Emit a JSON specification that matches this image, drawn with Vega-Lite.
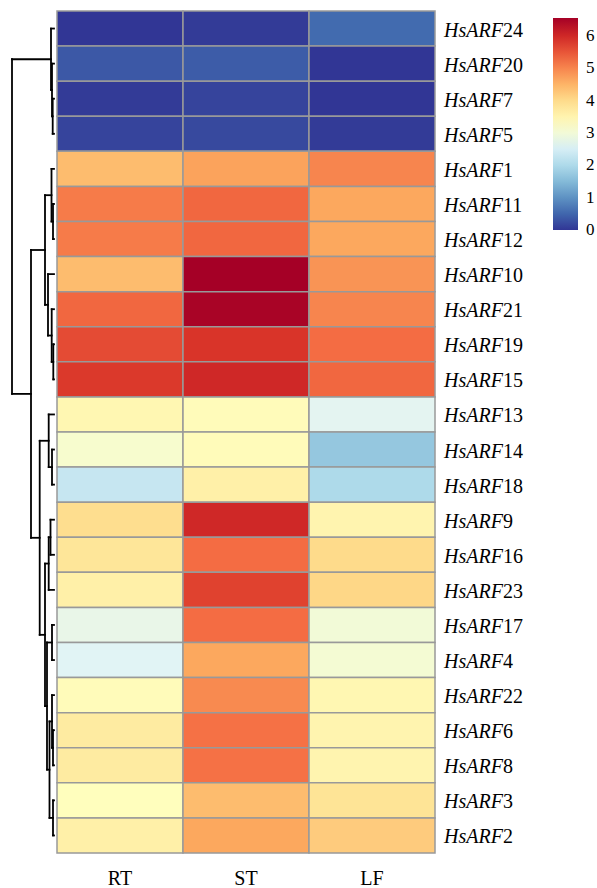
{
  "$schema": "https://vega.github.io/schema/vega-lite/v6.json",
  "padding": {"left": 10, "top": 10, "right": 0, "bottom": 0},
  "spacing": 0,
  "config": {"view": {"stroke": null}, "concat": {"spacing": 0}, "font": "Liberation Serif"},
  "datasets": {
    "heat": [
      {"gene": "HsARF24", "num": "24", "RT": 0.0, "ST": 0.05, "LF": 0.55},
      {"gene": "HsARF20", "num": "20", "RT": 0.35, "ST": 0.4, "LF": 0.0},
      {"gene": "HsARF7", "num": "7", "RT": 0.05, "ST": 0.15, "LF": 0.0},
      {"gene": "HsARF5", "num": "5", "RT": 0.15, "ST": 0.2, "LF": 0.05},
      {"gene": "HsARF1", "num": "1", "RT": 4.4, "ST": 4.7, "LF": 5.0},
      {"gene": "HsARF11", "num": "11", "RT": 5.1, "ST": 5.3, "LF": 4.65},
      {"gene": "HsARF12", "num": "12", "RT": 5.1, "ST": 5.3, "LF": 4.65},
      {"gene": "HsARF10", "num": "10", "RT": 4.4, "ST": 6.55, "LF": 4.85},
      {"gene": "HsARF21", "num": "21", "RT": 5.3, "ST": 6.5, "LF": 5.0},
      {"gene": "HsARF19", "num": "19", "RT": 5.6, "ST": 5.85, "LF": 5.25},
      {"gene": "HsARF15", "num": "15", "RT": 5.8, "ST": 6.0, "LF": 5.3},
      {"gene": "HsARF13", "num": "13", "RT": 3.45, "ST": 3.35, "LF": 2.7},
      {"gene": "HsARF14", "num": "14", "RT": 3.1, "ST": 3.35, "LF": 1.7},
      {"gene": "HsARF18", "num": "18", "RT": 2.3, "ST": 3.6, "LF": 2.0},
      {"gene": "HsARF9", "num": "9", "RT": 3.95, "ST": 6.0, "LF": 3.5},
      {"gene": "HsARF16", "num": "16", "RT": 3.8, "ST": 5.25, "LF": 4.0},
      {"gene": "HsARF23", "num": "23", "RT": 3.6, "ST": 5.7, "LF": 4.05},
      {"gene": "HsARF17", "num": "17", "RT": 2.8, "ST": 5.25, "LF": 3.0},
      {"gene": "HsARF4", "num": "4", "RT": 2.65, "ST": 4.65, "LF": 3.05},
      {"gene": "HsARF22", "num": "22", "RT": 3.35, "ST": 4.95, "LF": 3.45},
      {"gene": "HsARF6", "num": "6", "RT": 3.7, "ST": 5.2, "LF": 3.5},
      {"gene": "HsARF8", "num": "8", "RT": 3.7, "ST": 5.2, "LF": 3.5},
      {"gene": "HsARF3", "num": "3", "RT": 3.3, "ST": 4.4, "LF": 3.85},
      {"gene": "HsARF2", "num": "2", "RT": 3.6, "ST": 4.65, "LF": 4.2}
    ],
    "tree": [
      {"h": 1.3, "y1": 2.5, "y2": 3.5, "h1": 0, "h2": 0},
      {"h": 2, "y1": 1.5, "y2": 3.0, "h1": 0, "h2": 1.3},
      {"h": 3, "y1": 0.5, "y2": 2.25, "h1": 0, "h2": 2},
      {"h": 1, "y1": 5.5, "y2": 6.5, "h1": 0, "h2": 0},
      {"h": 2.5, "y1": 4.5, "y2": 6, "h1": 0, "h2": 1},
      {"h": 0.7, "y1": 9.5, "y2": 10.5, "h1": 0, "h2": 0},
      {"h": 2.3, "y1": 8.5, "y2": 10, "h1": 0, "h2": 0.7},
      {"h": 6, "y1": 7.5, "y2": 9.25, "h1": 0, "h2": 2.3},
      {"h": 9, "y1": 5.25, "y2": 8.375, "h1": 2.5, "h2": 6},
      {"h": 2, "y1": 12.5, "y2": 13.5, "h1": 0, "h2": 0},
      {"h": 5.3, "y1": 11.5, "y2": 13, "h1": 0, "h2": 2},
      {"h": 3.5, "y1": 14.5, "y2": 15.5, "h1": 0, "h2": 0},
      {"h": 5.3, "y1": 15, "y2": 16.5, "h1": 3.5, "h2": 0},
      {"h": 2, "y1": 17.5, "y2": 18.5, "h1": 0, "h2": 0},
      {"h": 1, "y1": 20.5, "y2": 21.5, "h1": 0, "h2": 0},
      {"h": 2, "y1": 19.5, "y2": 21, "h1": 0, "h2": 1},
      {"h": 1, "y1": 22.5, "y2": 23.5, "h1": 0, "h2": 0},
      {"h": 4.5, "y1": 20.25, "y2": 23, "h1": 2, "h2": 1},
      {"h": 7, "y1": 18, "y2": 21.625, "h1": 2, "h2": 4.5},
      {"h": 9, "y1": 15.75, "y2": 19.8125, "h1": 5.3, "h2": 7},
      {"h": 14.3, "y1": 12.25, "y2": 17.78125, "h1": 5.3, "h2": 9},
      {"h": 23, "y1": 6.8125, "y2": 15.015625, "h1": 9, "h2": 14.3},
      {"h": 42, "y1": 1.375, "y2": 10.9140625, "h1": 3, "h2": 23}
    ]
  },
  "hconcat": [
    {
      "width": 42,
      "height": 842,
      "data": {"name": "tree"},
      "layer": [
        {
          "mark": {"type": "rule", "color": "black", "strokeWidth": 1.8, "strokeCap": "square"},
          "encoding": {
            "x": {"field": "h", "type": "quantitative", "scale": {"domain": [0, 42], "reverse": true, "nice": false, "zero": false}, "axis": null},
            "y": {"field": "y1", "type": "quantitative", "scale": {"domain": [0, 24], "reverse": true, "nice": false, "zero": false}, "axis": null},
            "y2": {"field": "y2"}
          }
        },
        {
          "mark": {"type": "rule", "color": "black", "strokeWidth": 1.8, "strokeCap": "square"},
          "encoding": {
            "x": {"field": "h", "type": "quantitative", "scale": {"domain": [0, 42], "reverse": true, "nice": false, "zero": false}, "axis": null},
            "x2": {"field": "h1"},
            "y": {"field": "y1", "type": "quantitative", "scale": {"domain": [0, 24], "reverse": true, "nice": false, "zero": false}, "axis": null}
          }
        },
        {
          "mark": {"type": "rule", "color": "black", "strokeWidth": 1.8, "strokeCap": "square"},
          "encoding": {
            "x": {"field": "h", "type": "quantitative", "scale": {"domain": [0, 42], "reverse": true, "nice": false, "zero": false}, "axis": null},
            "x2": {"field": "h2"},
            "y": {"field": "y2", "type": "quantitative", "scale": {"domain": [0, 24], "reverse": true, "nice": false, "zero": false}, "axis": null}
          }
        }
      ]
    },
    {
      "width": 378,
      "height": 842,
      "data": {"name": "heat"},
      "layer": [
        {
          "transform": [{"fold": ["RT", "ST", "LF"], "as": ["tissue", "value"]}],
          "mark": {"type": "rect", "stroke": "#999999", "strokeWidth": 1.5},
          "encoding": {
            "x": {
              "field": "tissue", "type": "nominal", "sort": null,
              "scale": {"paddingInner": 0, "paddingOuter": 0},
              "axis": {"title": null, "labelAngle": 0, "domain": false, "ticks": false, "tickSize": 0, "labelPadding": 15, "labelFontSize": 20, "labelFont": "Liberation Serif", "labelColor": "black"}
            },
            "y": {"field": "gene", "type": "nominal", "sort": null, "axis": null, "scale": {"paddingInner": 0, "paddingOuter": 0}},
            "color": {
              "field": "value", "type": "quantitative",
              "scale": {"domain": [0, 6.55], "range": ["#313695", "#4575b4", "#74add1", "#abd9e9", "#e0f3f8", "#ffffbf", "#fee090", "#fdae61", "#f46d43", "#d73027", "#a50026"], "interpolate": "rgb"},
              "legend": {
                "title": null, "orient": "none", "legendX": 541, "legendY": 7, "direction": "vertical",
                "gradientLength": 212, "gradientThickness": 25, "gradientStrokeWidth": 0,
                "values": [0, 1, 2, 3, 4, 5, 6], "labelFontSize": 17, "labelFont": "Liberation Serif",
                "labelColor": "black", "labelOffset": 8, "labelBaseline": "middle",
                "encode": {"labels": {"update": {"baseline": {"value": "middle"}}}}
              }
            }
          }
        },
        {
          "mark": {"type": "text", "align": "left", "baseline": "middle", "fontStyle": "italic", "fontSize": 20, "font": "Liberation Serif", "color": "black", "dx": 9, "dy": 2},
          "encoding": {
            "x": {"datum": "LF", "bandPosition": 1},
            "y": {"field": "gene", "type": "nominal", "sort": null},
            "text": {"value": "HsARF"}
          }
        },
        {
          "mark": {"type": "text", "align": "left", "baseline": "middle", "fontStyle": "normal", "fontSize": 20, "font": "Liberation Serif", "color": "black", "dx": 68, "dy": 2},
          "encoding": {
            "x": {"datum": "LF", "bandPosition": 1},
            "y": {"field": "gene", "type": "nominal", "sort": null},
            "text": {"field": "num"}
          }
        }
      ]
    }
  ]
}
